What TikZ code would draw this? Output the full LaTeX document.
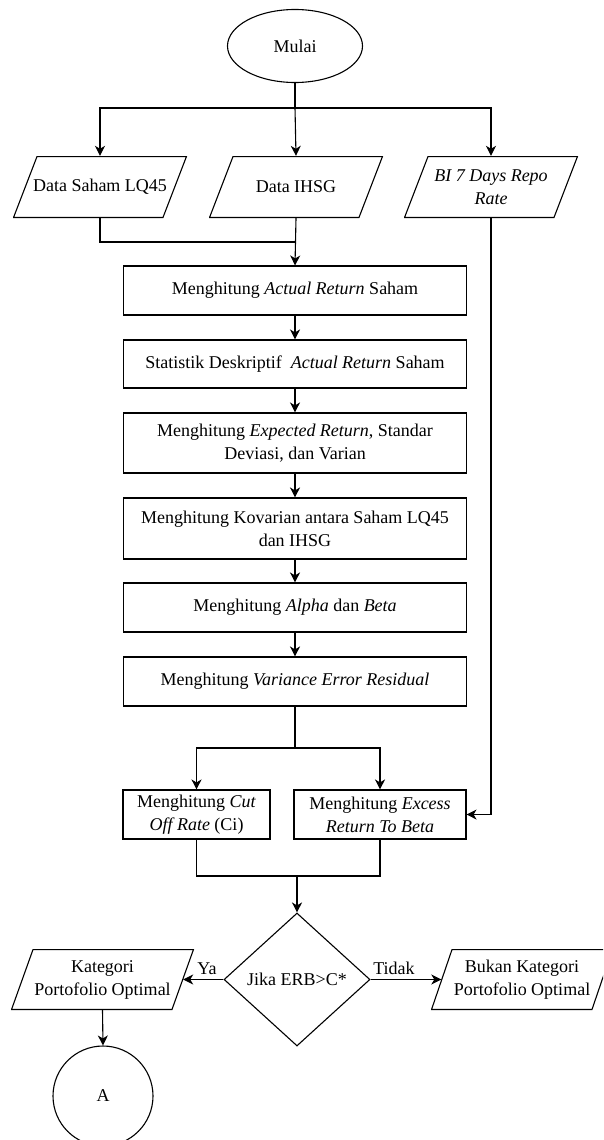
\documentclass[tikz,border=0pt]{standalone}
\usepackage{fontspec}
\setmainfont{Liberation Serif}
\usetikzlibrary{shapes.geometric,arrows.meta}
\tikzset{
  line/.style={draw=black, line width=1.1pt},
  arr/.style={line, -{Stealth[length=10pt,width=10pt,inset=3pt]}},
  txt/.style={font=\fontsize{18}{23}\selectfont, text=black, align=center, inner sep=0pt},
  procbox/.style 2 args={txt, draw=black, line width=1.1pt, rectangle, minimum width=#1, minimum height=#2},
  iobox/.style n args={3}{txt, rectangle, minimum width=#1, minimum height=#2,
    path picture={\draw[line width=1.1pt]
      ([xshift=#3,yshift=-0.55pt]path picture bounding box.north west) --
      ([xshift=-0.55pt,yshift=-0.55pt]path picture bounding box.north east) --
      ([xshift=-#3,yshift=0.55pt]path picture bounding box.south east) --
      ([xshift=0.55pt,yshift=0.55pt]path picture bounding box.south west) -- cycle;}},
  startnode/.style={txt, draw=black, line width=1.1pt, ellipse, minimum width=135pt, minimum height=73pt},
  decnode/.style={txt, draw=black, line width=1.1pt, diamond, minimum width=146pt, minimum height=133pt},
  connode/.style={txt, draw=black, line width=1.1pt, circle, minimum size=100pt},
  lbl/.style={txt}
}
\begin{document}
\begin{tikzpicture}[x=1pt,y=-1pt]
\useasboundingbox (0,0) rectangle (603,1140);
\fill[white] (0,0) rectangle (603,1140);
\clip (0,0) rectangle (603,1140);

\node[startnode] (mulai) at (295,46) {Mulai};

\node[iobox={174pt}{62pt}{24pt}] (p1) at (100,187) {Data Saham LQ45};
\node[iobox={174pt}{62pt}{24pt}] (p2) at (296,187) {Data IHSG};
\node[iobox={174pt}{62pt}{24pt}] (p3) at (491,187) {\textit{BI 7 Days Repo}\\\textit{Rate}};

\node[procbox={343pt}{49pt}] (b1) at (295,290.5) {Menghitung \textit{Actual Return} Saham};
\node[procbox={343pt}{48pt}] (b2) at (295,364) {Statistik Deskriptif~ \textit{Actual Return} Saham};
\node[procbox={343pt}{60pt}] (b3) at (295,443) {Menghitung \textit{Expected Return}, Standar\\Deviasi, dan Varian};
\node[procbox={343pt}{61pt}] (b4) at (295,528.5) {Menghitung Kovarian antara Saham LQ45\\dan IHSG};
\node[procbox={343pt}{49pt}] (b5) at (295,607.5) {Menghitung \textit{Alpha} dan \textit{Beta}};
\node[procbox={343pt}{49pt}] (b6) at (295,681.5) {Menghitung \textit{Variance Error Residual}};

\node[procbox={147pt}{49pt}] (b7) at (196.5,814.5) {Menghitung \textit{Cut}\\\textit{Off Rate} (Ci)};
\node[procbox={172pt}{49pt}] (b8) at (380,814.5) {Menghitung \textit{Excess}\\\textit{Return To Beta}};

\node[decnode] (dec) at (297,979.5) {Jika ERB>C*};
\node[iobox={183pt}{61pt}{22pt}] (kat) at (102.5,979.5) {Kategori\\Portofolio Optimal};
\node[iobox={182pt}{61pt}{21pt}] (bukan) at (522,979.5) {Bukan Kategori\\Portofolio Optimal};
\node[connode] (A) at (103,1096) {A};

\node[lbl] (ya) at (207,969) {Ya};
\node[lbl] (tidak) at (394,968) {Tidak};

\coordinate (tb) at (295,108);
\coordinate (jn) at (295,242);
\coordinate (sp) at (295,748);
\coordinate (mj) at (297,876);

\draw[line] (mulai.south) -- (tb);
\draw[arr] (tb) -| (p1.north);
\draw[arr] (tb) -- (p2.north);
\draw[arr] (tb) -| (p3.north);

\draw[line] (p1.south) |- (jn);
\draw[arr] (p2.south) -- (b1.north);
\draw[arr] (p3.south) |- (b8.east);

\draw[arr] (b1) -- (b2);
\draw[arr] (b2) -- (b3);
\draw[arr] (b3) -- (b4);
\draw[arr] (b4) -- (b5);
\draw[arr] (b5) -- (b6);

\draw[line] (b6.south) -- (sp);
\draw[arr] (sp) -| (b7.north);
\draw[arr] (sp) -| (b8.north);

\draw[line] (b7.south) |- (mj) -| (b8.south);
\draw[arr] (mj) -- (dec.north);

\draw[arr] (dec.west) -- ([xshift=-11pt]kat.east);
\draw[arr] (dec.east) -- ([xshift=10.5pt]bukan.west);
\draw[arr] (kat.south) -- (A.north);
\end{tikzpicture}
\end{document}
